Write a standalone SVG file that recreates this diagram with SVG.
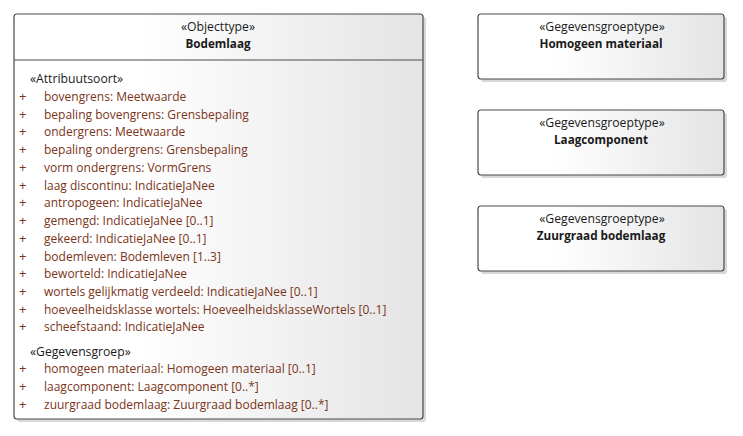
<svg xmlns="http://www.w3.org/2000/svg" width="743" height="436" viewBox="0 0 743 436">
<defs>
<linearGradient id="g" x1="0" y1="0" x2="1" y2="0">
<stop offset="0" stop-color="#ffffff"/>
<stop offset="0.3" stop-color="#ffffff"/>
<stop offset="1" stop-color="#e4e4e4"/>
</linearGradient>
<style>
.box{fill:url(#g);stroke:#4a4a4a;stroke-width:1.2}
.sh{fill:#c8c8c8;opacity:0.7}
text{font-family:"Open Sans","Noto Sans","DejaVu Sans",sans-serif;font-size:12.2px;fill:#1a1a1a}
.b{font-weight:bold;font-size:11.7px}
.c{text-anchor:middle}
.a{fill:#7a3418;font-size:12px}
.p{fill:#7a3418;font-size:13px}
.sep{stroke:#4a4a4a;stroke-width:1}
</style>
</defs>
<g id="Bodemlaag">
<rect class="sh" x="17" y="17" width="409" height="405" rx="3"/>
<rect class="box" x="14" y="14" width="409" height="405" rx="3"/>
<line class="sep" x1="14" y1="60" x2="423" y2="60"/>
<text class="c" x="218" y="31" font-size="11.7">«Objecttype»</text>
<text class="c b" x="218" y="48">Bodemlaag</text>
<text x="30" y="83">«Attribuutsoort»</text>
<g>
<text class="p" x="19" y="101">+</text>
<text class="p" x="19" y="119">+</text>
<text class="p" x="19" y="136">+</text>
<text class="p" x="19" y="154">+</text>
<text class="p" x="19" y="172">+</text>
<text class="p" x="19" y="190">+</text>
<text class="p" x="19" y="207">+</text>
<text class="p" x="19" y="225">+</text>
<text class="p" x="19" y="243">+</text>
<text class="p" x="19" y="261">+</text>
<text class="p" x="19" y="278">+</text>
<text class="p" x="19" y="296">+</text>
<text class="p" x="19" y="314">+</text>
<text class="p" x="19" y="331">+</text>
<text class="p" x="19" y="373">+</text>
<text class="p" x="19" y="391">+</text>
<text class="p" x="19" y="409">+</text>
</g>
<text class="a" x="44" y="101">bovengrens: Meetwaarde</text>
<text class="a" x="44" y="119">bepaling bovengrens: Grensbepaling</text>
<text class="a" x="44" y="136">ondergrens: Meetwaarde</text>
<text class="a" x="44" y="154">bepaling ondergrens: Grensbepaling</text>
<text class="a" x="44" y="172">vorm ondergrens: VormGrens</text>
<text class="a" x="44" y="190">laag discontinu: IndicatieJaNee</text>
<text class="a" x="44" y="207">antropogeen: IndicatieJaNee</text>
<text class="a" x="44" y="225">gemengd: IndicatieJaNee [0..1]</text>
<text class="a" x="44" y="243">gekeerd: IndicatieJaNee [0..1]</text>
<text class="a" x="44" y="261">bodemleven: Bodemleven [1..3]</text>
<text class="a" x="44" y="278">beworteld: IndicatieJaNee</text>
<text class="a" x="44" y="296">wortels gelijkmatig verdeeld: IndicatieJaNee [0..1]</text>
<text class="a" x="44" y="314">hoeveelheidsklasse wortels: HoeveelheidsklasseWortels [0..1]</text>
<text class="a" x="44" y="331">scheefstaand: IndicatieJaNee</text>
<text x="30" y="356">«Gegevensgroep»</text>
<text class="a" x="44" y="373">homogeen materiaal: Homogeen materiaal [0..1]</text>
<text class="a" x="44" y="391">laagcomponent: Laagcomponent [0..*]</text>
<text class="a" x="44" y="409">zuurgraad bodemlaag: Zuurgraad bodemlaag [0..*]</text>
</g>
<g id="HomogeenMateriaal">
<rect class="sh" x="481" y="17" width="246" height="65" rx="3"/>
<rect class="box" x="478" y="14" width="246" height="65" rx="3"/>
<text class="c" x="602" y="31">«Gegevensgroeptype»</text>
<text class="c b" x="601" y="48">Homogeen materiaal</text>
</g>
<g id="Laagcomponent">
<rect class="sh" x="481" y="113" width="246" height="65" rx="3"/>
<rect class="box" x="478" y="110" width="246" height="65" rx="3"/>
<text class="c" x="602" y="127">«Gegevensgroeptype»</text>
<text class="c b" x="601" y="144">Laagcomponent</text>
</g>
<g id="ZuurgraadBodemlaag">
<rect class="sh" x="481" y="209" width="246" height="65" rx="3"/>
<rect class="box" x="478" y="206" width="246" height="65" rx="3"/>
<text class="c" x="602" y="223">«Gegevensgroeptype»</text>
<text class="c b" x="601" y="240">Zuurgraad bodemlaag</text>
</g>
<g id="connectors"></g>
</svg>
